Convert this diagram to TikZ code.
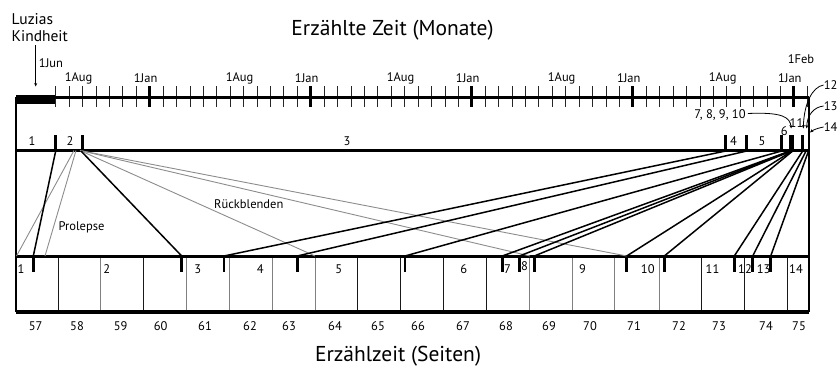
\documentclass[tikz,border=0pt]{standalone}
\usepackage{fontspec}
\setmainfont{PT Sans}
\usetikzlibrary{arrows.meta}
\begin{document}
\begin{tikzpicture}[x=1pt,y=-1pt,
  axisline/.style={line width=3.3pt},
  frameline/.style={line width=1.8pt},
  monthtick/.style={line width=0.7pt, draw=black!85},
  jantick/.style={line width=3pt},
  marker/.style={line width=2.6pt},
  mapline/.style={line width=1.5pt},
  greyline/.style={line width=0.9pt, draw=black!45},
  divider/.style={line width=1pt},
  small/.style={font=\fontsize{12.5}{14}\selectfont, inner sep=0pt},
  mid/.style={font=\fontsize{15.5}{16.7}\selectfont, inner sep=0pt},
  bigtitle/.style={font=\fontsize{21.5}{24}\selectfont, inner sep=0pt},
  pointer/.style={line width=0.8pt, -{Stealth[length=3.5pt,width=3pt]}},
]
\useasboundingbox (0,0) rectangle (838,367);

% ---------------- titles ----------------
\node[bigtitle] (toptitle) at (392.5,30) {Erzählte Zeit (Monate)};
\node[bigtitle] (bottitle) at (398,356.5) {Erzählzeit (Seiten)};

% ---------------- top time axis ----------------
\coordinate (axL) at (16,97.3);
\coordinate (axR) at (809,97.3);
\fill (16,95) rectangle (55.7,104);
\foreach \m in {0,...,56} {
  \draw[monthtick] ({55.7+13.42*\m},86) -- ({55.7+13.42*\m},107);
}
\foreach \m in {7,19,31,43,55} {
  \draw[jantick] ({55.7+13.42*\m},86) -- ({55.7+13.42*\m},107);
}
\draw[axisline] (axL) -- (axR);
\foreach \m/\t in {2/1Aug,7/1Jan,14/1Aug,19/1Jan,26/1Aug,31/1Jan,38/1Aug,43/1Jan,50/1Aug,55/1Jan} {
  \node[small] (ml\m) at ({55.7+13.42*\m-4},78.5) {\t};
}
\node[small] (mljun) at (51,63.5) {1Jun};
\node[small] (mlfeb) at (801,59) {1Feb};

% Luzias Kindheit
\node[mid, align=left, anchor=west] (kid) at (11.5,27.3) {Luzias\\Kindheit};
\coordinate (kidA) at (35.7,45);
\coordinate (kidB) at (35.7,86.5);
\draw[pointer] (kidA) -- (kidB);

% ---------------- chapter line (narrated time) ----------------
\coordinate (chL) at (16,150.3);
\coordinate (chR) at (809,150.3);
\draw[axisline, line width=3.5pt] (chL) -- (chR);
\foreach \x in {16,55.7,82.3,725.7,746.7,781.7,790,792.7,802.7,809} {
  \draw[marker] (\x,135) -- (\x,150);
}
\node[small] (c1) at (32,140.7) {1};
\node[small] (c2) at (70,140.7) {2};
\node[small] (c3) at (347,140.7) {3};
\node[small] (c4) at (733.5,140.7) {4};
\node[small] (c5) at (762,140.7) {5};
\node[small] (c6) at (784.3,131) {6};
\node[small] (c11) at (796.5,123) {11};
\node[small] (c7to10) at (720,115) {7, 8, 9, 10};
\node[small, anchor=east] (c12) at (837.6,85) {12};
\node[small, anchor=east] (c13) at (837.6,106) {13};
\node[small, anchor=east] (c14) at (837.6,127) {14};

\coordinate (a7) at (791.2,128.5);
\coordinate (a12) at (803.3,128.5);
\coordinate (a13) at (806.7,128.5);
\coordinate (a14) at (810,132.5);
\draw[pointer] (c7to10.east) ++(2,-1.5) .. controls (782,112) and (790,117) .. (a7);
\draw[pointer] (c12.west) .. controls (812,87) and (804,104) .. (a12);
\draw[pointer] (c13.west) .. controls (814,107) and (807,115) .. (a13);
\draw[pointer] (c14.west) .. controls (818,128) and (813,130) .. (a14);

% ---------------- outer verticals ----------------
\draw[frameline] (16,97.3) -- (16,312);
\draw[frameline] (809,97.3) -- (809,312);

% ---------------- bottom page box ----------------
\foreach \x in {58.3,143.3,357.3,400.7,443.3,486.7,701.7,744.3,787.7} {
  \draw[divider, draw=black!90] (\x,256.7) -- (\x,312);
}
\foreach \x in {100.7,186.7,229.3,272,315,529.3,572.3,614.3,659.3} {
  \draw[divider, draw=black!50] (\x,256.7) -- (\x,312);
}
\coordinate (bxTL) at (16,256.7);
\coordinate (bxTR) at (809,256.7);
\coordinate (bxBL) at (16,311.8);
\coordinate (bxBR) at (809,311.8);
\draw[axisline, line width=3pt] (bxTL) -- (bxTR);
\draw[axisline, line width=3.6pt] (bxBL) -- (bxBR);
\foreach \x in {16,33.3,181.7,224,297.3,405,502.3,519.3,534.3,626.7,664.3,734.3,752.7,770.7,809} {
  \draw[marker] (\x,256.7) -- (\x,272.3);
}
\foreach \n/\x in {1/21,2/106.7,3/197.7,4/260.3,5/338.7,6/463.7,7/507.5,9/582.5,10/647.8,11/712.5,12/745,13/763.7,14/796} {
  \node[small] (k\n) at (\x,269.3) {\n};
}
\node[small] (k8) at (524.5,266.5) {8};
\foreach \n/\x in {57/35.7,58/77,59/120.7,60/160.7,61/205,62/250,63/289,64/335,65/378,66/418,67/463,68/506,69/549,70/590,71/634,72/679,73/719,74/766,75/799} {
  \node[small] (p\n) at (\x,326.5) {\n};
}

% ---------------- mapping lines ----------------
% grey: prolepsis and flashbacks
\coordinate (gpA) at (74,150.5);
\coordinate (gpB) at (76,150.5);
\coordinate (gr) at (80,150.5);
\coordinate (gb1) at (16.5,256);
\coordinate (gb2) at (45,256);
\coordinate (gb3) at (315,256);
\coordinate (gb4) at (530,256);
\coordinate (gb5) at (626.7,256);
\draw[greyline] (gpA) -- (gb1);
\draw[greyline] (gpB) -- (gb2);
\draw[greyline] (gr) -- (gb3);
\draw[greyline] (gr) -- (gb4);
\draw[greyline] (gr) -- (gb5);
\node[small, anchor=west] (prol) at (58.3,227) {Prolepse};
\node[small, anchor=west] (rueck) at (214,204) {Rückblenden};

% black: chapter starts
\foreach \n/\t/\b in {2/55.7/33.3, 3/81/181.7, 4/725.7/224, 5/746.7/297.3, 6/781.7/405, 7/790/502.3, 8/790.7/519.3, 9/791.4/534.3, 10/792/626.7, 11/792.7/664.3, 12/802.7/734.3, 13/806/752.7, 14/808.5/770.7} {
  \coordinate (top\n) at (\t,151);
  \coordinate (bot\n) at (\b,256);
  \draw[mapline] (top\n) -- (bot\n);
}
\end{tikzpicture}
\end{document}
